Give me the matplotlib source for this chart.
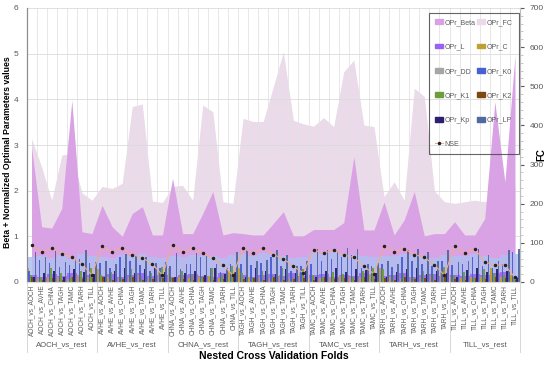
import numpy as np
import matplotlib
matplotlib.use("Agg")
import matplotlib.pyplot as plt
import matplotlib.transforms as mtransforms
from matplotlib.patches import Patch
from matplotlib.lines import Line2D

plt.rcParams['font.family'] = ['Liberation Sans', 'DejaVu Sans']

# catchments (folds are "X_vs_Y" for every pair)
sites = ['AOCH', 'AVHE', 'CHNA', 'TAGH', 'TAMC', 'TARH', 'TILL']
groups = [s + '_vs_rest' for s in sites]
folds = [a + '_vs_' + b for a in sites for b in sites]

# FC (right axis)
opr_fc = [366, 294, 209, 324, 329, 228, 209,
          244, 239, 252, 448, 455, 207, 203,
          244, 247, 209, 452, 435, 205, 201,
          418, 410, 410, 498, 588, 413, 404,
          398, 420, 397, 537, 567, 401, 397,
          218, 256, 209, 495, 474, 233, 205,
          201, 205, 209, 205, 218, 257, 245]

# Beta (left axis)
opr_beta = [2.95, 1.21, 1.18, 1.61, 3.98, 1.10, 1.06,
            1.68, 1.21, 1.00, 1.50, 1.65, 1.03, 1.03,
            2.27, 1.06, 1.06, 1.50, 1.98, 1.03, 1.08,
            1.06, 1.03, 1.03, 1.28, 1.54, 1.01, 1.01,
            1.15, 1.15, 1.15, 1.30, 2.74, 1.14, 1.14,
            1.75, 1.03, 1.36, 1.98, 1.01, 1.06, 1.06,
            1.32, 1.03, 1.03, 1.39, 3.95, 2.19, 4.97]

# normalized parameters
opr_l = [0.15, 0.12, 0.18, 0.14, 0.20, 0.12, 0.16,
         0.14, 0.18, 0.12, 0.15, 0.20, 0.13, 0.16,
         0.12, 0.16, 0.18, 0.14, 0.12, 0.19, 0.15,
         0.16, 0.12, 0.15, 0.18, 0.13, 0.20, 0.14,
         0.15, 0.18, 0.12, 0.16, 0.14, 0.19, 0.13,
         0.14, 0.16, 0.20, 0.12, 0.15, 0.18, 0.14,
         0.16, 0.13, 0.18, 0.15, 0.20, 0.22, 0.12]
opr_c = [0.30, 0.08, 0.10, 0.12, 0.06, 0.15, 0.10,
         0.28, 0.10, 0.08, 0.12, 0.15, 0.10, 0.22,
         0.30, 0.12, 0.08, 0.10, 0.14, 0.08, 0.25,
         0.30, 0.10, 0.12, 0.08, 0.15, 0.10, 0.20,
         0.12, 0.08, 0.10, 0.14, 0.10, 0.12, 0.18,
         0.30, 0.10, 0.08, 0.12, 0.10, 0.15, 0.22,
         0.10, 0.08, 0.12, 0.10, 0.30, 0.12, 0.15]
opr_dd = [0.55, 0.58, 0.52, 0.60, 0.50, 0.62, 0.56,
          0.54, 0.52, 0.60, 0.58, 0.62, 0.55, 0.52,
          0.58, 0.54, 0.60, 0.56, 0.58, 0.52, 0.60,
          0.62, 0.58, 0.64, 0.62, 0.56, 0.52, 0.55,
          0.64, 0.62, 0.65, 0.62, 0.60, 0.56, 0.54,
          0.56, 0.58, 0.62, 0.60, 0.58, 0.52, 0.60,
          0.56, 0.58, 0.62, 0.58, 0.52, 0.60, 0.62]
opr_k0 = [0.25, 0.48, 0.41, 0.33, 0.37, 0.50, 0.41,
          0.42, 0.30, 0.55, 0.45, 0.38, 0.25, 0.30,
          0.35, 0.28, 0.40, 0.55, 0.30, 0.22, 0.40,
          0.40, 0.38, 0.42, 0.55, 0.35, 0.25, 0.35,
          0.40, 0.45, 0.50, 0.55, 0.60, 0.30, 0.35,
          0.40, 0.32, 0.55, 0.45, 0.40, 0.35, 0.45,
          0.38, 0.40, 0.55, 0.35, 0.30, 0.40, 0.65]
opr_k1 = [0.15, 0.10, 0.30, 0.20, 0.12, 0.25, 0.30,
          0.15, 0.22, 0.12, 0.28, 0.10, 0.20, 0.32,
          0.12, 0.25, 0.18, 0.10, 0.30, 0.15, 0.35,
          0.20, 0.12, 0.25, 0.15, 0.30, 0.12, 0.28,
          0.15, 0.10, 0.22, 0.18, 0.12, 0.25, 0.30,
          0.28, 0.15, 0.20, 0.12, 0.25, 0.18, 0.32,
          0.15, 0.22, 0.12, 0.28, 0.20, 0.15, 0.10]
opr_k2 = [0.10, 0.05, 0.08, 0.04, 0.12, 0.06, 0.08,
          0.12, 0.05, 0.07, 0.10, 0.04, 0.06, 0.08,
          0.09, 0.06, 0.04, 0.11, 0.05, 0.07, 0.10,
          0.06, 0.08, 0.05, 0.12, 0.04, 0.07, 0.09,
          0.05, 0.10, 0.06, 0.08, 0.04, 0.11, 0.07,
          0.08, 0.05, 0.12, 0.06, 0.09, 0.04, 0.10,
          0.07, 0.05, 0.09, 0.06, 0.12, 0.08, 0.05]
opr_kp = [0.10, 0.20, 0.25, 0.12, 0.28, 0.22, 0.18,
          0.10, 0.25, 0.30, 0.20, 0.28, 0.30, 0.22,
          0.10, 0.20, 0.25, 0.15, 0.30, 0.18, 0.22,
          0.12, 0.30, 0.25, 0.18, 0.28, 0.20, 0.24,
          0.10, 0.25, 0.30, 0.22, 0.28, 0.26, 0.20,
          0.12, 0.22, 0.28, 0.30, 0.18, 0.25, 0.20,
          0.10, 0.26, 0.30, 0.22, 0.28, 0.25, 0.08]
opr_lp = [0.66, 0.55, 0.70, 0.44, 0.50, 0.70, 0.44,
          0.45, 0.40, 0.62, 0.58, 0.55, 0.42, 0.44,
          0.64, 0.40, 0.64, 0.58, 0.40, 0.30, 0.66,
          0.70, 0.45, 0.48, 0.70, 0.60, 0.35, 0.45,
          0.72, 0.70, 0.68, 0.75, 0.72, 0.40, 0.42,
          0.45, 0.40, 0.70, 0.72, 0.65, 0.45, 0.70,
          0.44, 0.45, 0.72, 0.60, 0.45, 0.70, 0.72]

nse = [0.81, 0.66, 0.74, 0.62, 0.54, 0.39, 0.15,
       0.79, 0.66, 0.75, 0.60, 0.53, 0.39, 0.15,
       0.81, 0.66, 0.74, 0.63, 0.52, 0.37, 0.15,
       0.74, 0.63, 0.74, 0.60, 0.51, 0.34, 0.20,
       0.70, 0.63, 0.70, 0.59, 0.54, 0.34, 0.18,
       0.79, 0.66, 0.73, 0.60, 0.54, 0.37, 0.15,
       0.79, 0.63, 0.73, 0.44, 0.37, 0.37, 0.10]

grey = '#595959'
x = np.arange(len(folds))

fig = plt.figure(figsize=(5.5, 3.66), dpi=100)
ax = fig.add_axes([26.5 / 550, 1 - 282 / 366, 493.5 / 550, 274 / 366])
ax2 = ax.twinx()
ax.set_zorder(ax2.get_zorder() + 1)
ax.patch.set_visible(False)

# areas
ax2.fill_between(x, 0, opr_fc, color='#eadaea', lw=0)
ax.fill_between(x, 0, opr_beta, color='#d9a2e4', lw=0, zorder=1)

# bars
ax.bar(x, opr_dd, width=1.0, color='#b0bff2', alpha=0.85, zorder=1.5)
ax.bar(x, opr_l, width=1.0, color='#9a62f0', alpha=0.85, zorder=1.6)
narrow = [(opr_c, '#bfa030'), (opr_k0, '#4a5fd4'), (opr_k1, '#6e9e3c'),
          (opr_k2, '#7a4a12'), (opr_kp, '#2a1f70'), (opr_lp, '#50699e')]
offs = np.linspace(-0.38, 0.38, len(narrow))
for (vals, col), o in zip(narrow, offs):
    ax.bar(x + o, vals, width=0.16, color=col, alpha=0.95, zorder=2)

ax.plot(x, nse, color='#f0ad85', lw=0.8, marker='o', ms=1.5,
        mfc='#222222', mec='#222222', zorder=3)

# axes
ax.set_xlim(-0.5, len(folds) - 0.5)
ax.set_ylim(0, 6)
ax2.set_ylim(0, 700)
ax.set_xticks(x)
ax.set_xticklabels(folds, rotation=90, fontsize=4.7, color=grey)
ax.set_xticks(np.arange(-0.5, len(folds), 1), minor=True)
ax.tick_params(axis='x', which='both', length=0, pad=2)
ax.tick_params(axis='y', length=0, labelsize=6, colors=grey, pad=6)
ax.set_axisbelow(True)
ax.grid(which='minor', axis='x', color='#e3e3e3', lw=0.6)
ax.grid(which='major', axis='y', color='#dadada', lw=0.6)

ax2.set_yticks(np.arange(0, 701, 100))
ax2.set_yticks(np.arange(0, 701, 20), minor=True)
ax2.tick_params(axis='y', which='major', length=3, labelsize=6, colors=grey, pad=4)
ax2.tick_params(axis='y', which='minor', length=2, colors='#bfbfbf')
for a in (ax, ax2):
    a.spines['top'].set_visible(False)
    a.spines['left'].set_color('#8c8c8c')
    a.spines['right'].set_color('#bfbfbf')
    a.spines['bottom'].set_color('#d9d9d9')
    a.spines['left'].set_linewidth(0.8)

# group labels under the folds
trans = mtransforms.blended_transform_factory(ax.transData, ax.transAxes)
for k, g in enumerate(groups):
    ax.text(7 * k + 3, -0.228, g, transform=trans, ha='center', va='center',
            fontsize=5.6, color=grey)
for b in np.arange(-0.5, len(folds), 7):
    ax.plot([b, b], [0, -0.255], transform=trans, clip_on=False,
            color='#d0d0d0', lw=0.6)

fig.text(0.497, 1 - 356 / 366, 'Nested Cross Validation Folds', ha='center',
         va='center', fontsize=7.5, fontweight='bold')
fig.text(8 / 550, 1 - 152 / 366, 'Beta + Normalized Optimal Parameters values',
         rotation=90, ha='center', va='center', fontsize=6.3, fontweight='bold')
fig.text(541 / 550, 1 - 155 / 366, 'FC', rotation=90, ha='center', va='center',
         fontsize=7, fontweight='bold')

# legend (row order like the original)
h = {
    'OPr_Beta': Patch(color='#d9a2e4'), 'OPr_FC': Patch(color='#eadaea'),
    'OPr_L': Patch(color='#9a62f0'), 'OPr_C': Patch(color='#bfa030'),
    'OPr_DD': Patch(color='#a6a6a6'), 'OPr_K0': Patch(color='#4a5fd4'),
    'OPr_K1': Patch(color='#6e9e3c'), 'OPr_K2': Patch(color='#7a4a12'),
    'OPr_Kp': Patch(color='#2a1f70'), 'OPr_LP': Patch(color='#50699e'),
    'NSE': Line2D([], [], color='#f0ad85', lw=0.8, marker='o', ms=1.5,
                  mfc='#222222', mec='#222222'),
}
order = ['OPr_Beta', 'OPr_L', 'OPr_DD', 'OPr_K1', 'OPr_Kp', 'NSE',
         'OPr_FC', 'OPr_C', 'OPr_K0', 'OPr_K2', 'OPr_LP']
leg = ax.legend([h[k] for k in order], order, ncol=2, loc='upper right',
                bbox_to_anchor=(1.005, 0.995), fontsize=5.0, frameon=True,
                fancybox=False, edgecolor='#404040', facecolor='none',
                labelspacing=2.5, handlelength=1.1, handleheight=0.7,
                columnspacing=0.3, borderpad=0.9, handletextpad=0.25)
leg.get_frame().set_linewidth(0.8)
for t in leg.get_texts():
    t.set_color(grey)

fig.savefig('out.png', dpi=100)
